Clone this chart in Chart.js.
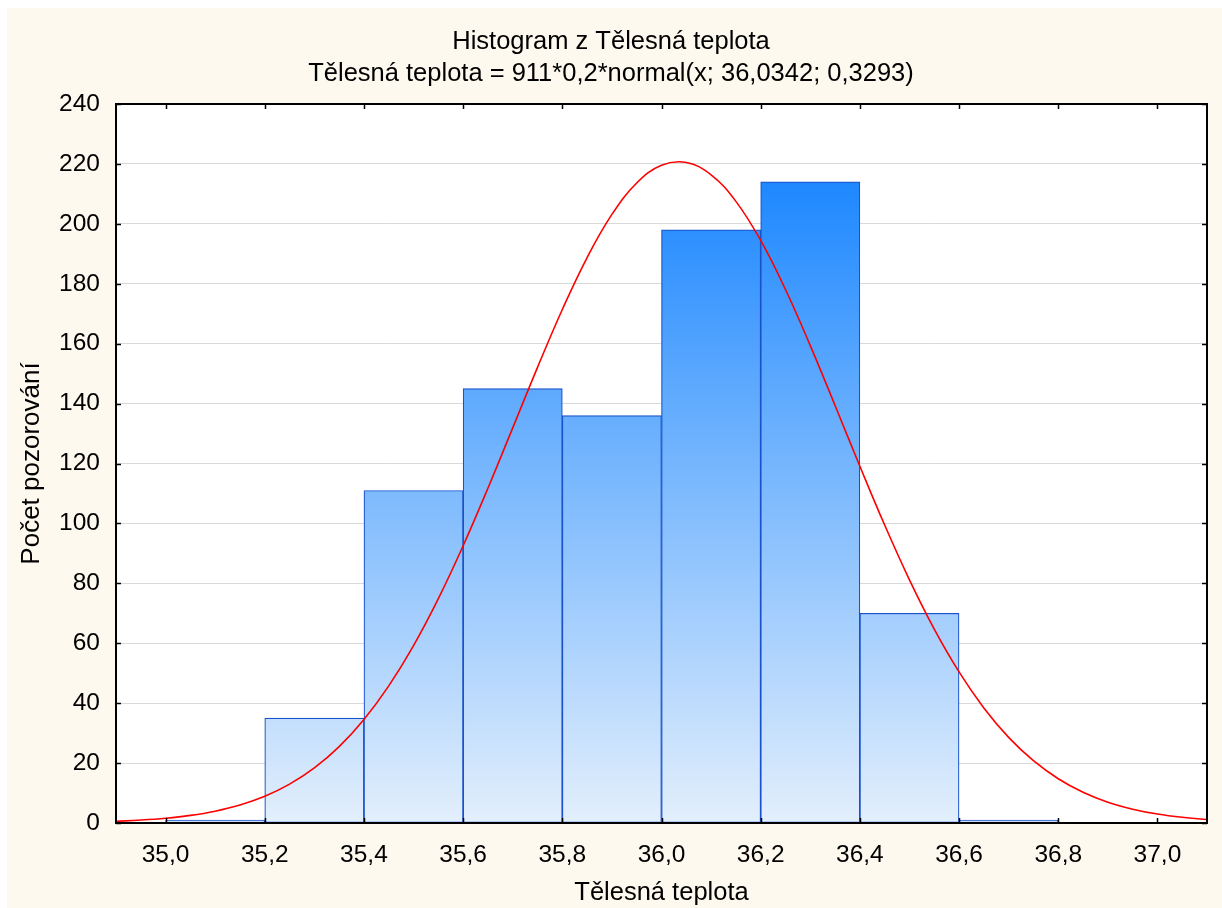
<!DOCTYPE html>
<html>
<head>
<meta charset="utf-8">
<script src="https://cdn.jsdelivr.net/npm/chart.js@4/dist/chart.umd.min.js"></script>
<style>
  html, body { margin: 0; padding: 0; background: #ffffff; }
  #wrap { width: 1222px; height: 908px; position: relative; }
</style>
</head>
<body>
<div id="wrap"><canvas id="c" width="1222" height="908"></canvas></div>
<script>
// ---- Data ----
const titleLines = ['Histogram z Tělesná teplota', 'Tělesná teplota = 911*0,2*normal(x; 36,0342; 0,3293)'];
const xAxisTitle = 'Tělesná teplota';
const yAxisTitle = 'Počet pozorování';

const binCenters = [35.1, 35.3, 35.5, 35.7, 35.9, 36.1, 36.3, 36.5, 36.7];
const counts     = [1, 35, 111, 145, 136, 198, 214, 70, 1];

const curveX = [34.90, 34.95, 35.00, 35.05, 35.10, 35.15, 35.20, 35.25, 35.30, 35.35,
                35.40, 35.45, 35.50, 35.55, 35.60, 35.65, 35.70, 35.75, 35.80, 35.85,
                35.90, 35.95, 36.00, 36.05, 36.10, 36.15, 36.20, 36.25, 36.30, 36.35,
                36.40, 36.45, 36.50, 36.55, 36.60, 36.65, 36.70, 36.75, 36.80, 36.85,
                36.90, 36.95, 37.00, 37.05, 37.10];
const curveY = [0.59, 0.98, 1.59, 2.54, 3.95, 6.00, 8.92, 12.96, 18.38, 25.49,
                34.55, 45.76, 59.21, 74.88, 92.54, 111.76, 131.89, 152.10, 171.41, 188.76,
                203.14, 213.63, 219.54, 220.48, 216.37, 207.50, 194.45, 178.07, 159.36, 139.37,
                119.10, 99.46, 81.17, 64.73, 50.44, 38.41, 28.59, 20.79, 14.77, 10.26,
                6.96, 4.62, 2.99, 1.90, 1.17];

const xTicks = [35.0, 35.2, 35.4, 35.6, 35.8, 36.0, 36.2, 36.4, 36.6, 36.8, 37.0];
const yTicks = [0, 20, 40, 60, 80, 100, 120, 140, 160, 180, 200, 220, 240];
const xMin = 34.9, xMax = 37.1, yMin = 0, yMax = 240;

// ---- Rendering ----
const FONT = "'Liberation Sans', Arial, sans-serif";
const CREAM = '#fdf9ee';

const backgroundPlugin = {
  id: 'bg',
  beforeDraw(chart) {
    const ctx = chart.ctx, a = chart.chartArea;
    ctx.save();
    ctx.fillStyle = '#ffffff';
    ctx.fillRect(0, 0, chart.width, chart.height);
    ctx.fillStyle = CREAM;
    ctx.fillRect(7, 8, chart.width - 7, chart.height - 8);
    ctx.fillStyle = '#ffffff';
    ctx.fillRect(a.left, a.top, a.right - a.left, a.bottom - a.top);
    ctx.restore();
  }
};

const framePlugin = {
  id: 'frame',
  afterDraw(chart) {
    const ctx = chart.ctx, a = chart.chartArea;
    const xs = chart.scales.x, ys = chart.scales.y;
    ctx.save();
    ctx.strokeStyle = '#000000';
    ctx.lineWidth = 1.5;
    ctx.beginPath();
    xTicks.forEach(v => {
      const p = Math.round(xs.getPixelForValue(v)) + 0.5;
      ctx.moveTo(p, a.bottom); ctx.lineTo(p, a.bottom - 5);
      ctx.moveTo(p, a.top); ctx.lineTo(p, a.top + 5);
    });
    yTicks.forEach(v => {
      const p = Math.round(ys.getPixelForValue(v)) + 0.5;
      ctx.moveTo(a.left, p); ctx.lineTo(a.left + 5, p);
      ctx.moveTo(a.right, p); ctx.lineTo(a.right - 5, p);
    });
    ctx.stroke();
    ctx.lineWidth = 2;
    ctx.strokeRect(a.left, a.top, a.right - a.left, a.bottom - a.top);
    ctx.restore();
  }
};

const ctx = document.getElementById('c').getContext('2d');

function barGradient(context) {
  const chart = context.chart;
  const a = chart.chartArea;
  if (!a) return '#80bbfd';
  const ys = chart.scales.y;
  const top = ys.getPixelForValue(Math.max(...counts));
  const g = chart.ctx.createLinearGradient(0, top, 0, a.bottom);
  g.addColorStop(0, '#1e88ff');
  g.addColorStop(1, '#e3effc');
  return g;
}

new Chart(ctx, {
  type: 'bar',
  data: {
    datasets: [
      {
        type: 'line',
        data: curveX.map((x, i) => ({ x: x, y: curveY[i] })),
        borderColor: '#ff0000',
        borderWidth: 1.6,
        pointRadius: 0,
        fill: false,
        tension: 0.4,
        order: 0
      },
      {
        type: 'bar',
        data: binCenters.map((x, i) => ({ x: x, y: counts[i] })),
        backgroundColor: barGradient,
        borderColor: '#1a52cc',
        borderWidth: 1.2,
        borderSkipped: false,
        barPercentage: 1,
        categoryPercentage: 1,
        grouped: false,
        order: 1
      }
    ]
  },
  options: {
    responsive: false,
    animation: false,
    devicePixelRatio: 1,
    layout: { padding: { top: 0, left: 15, right: 15, bottom: 0 } },
    plugins: {
      legend: { display: false },
      tooltip: { enabled: false },
      title: {
        display: true,
        text: titleLines,
        color: '#000000',
        font: { family: FONT, size: 25.5, weight: 'normal', lineHeight: 32 / 25.5 },
        padding: { top: 26, bottom: 14 }
      }
    },
    scales: {
      x: {
        type: 'linear',
        min: xMin, max: xMax,
        offset: false,
        afterBuildTicks(scale) { scale.ticks = xTicks.map(v => ({ value: v })); },
        afterFit(scale) { scale.height = 85; },
        grid: { display: false, drawTicks: false },
        border: { display: false },
        ticks: {
          color: '#000000',
          padding: 18,
          maxRotation: 0,
          autoSkip: false,
          font: { family: FONT, size: 24.5 },
          callback: v => Number(v).toFixed(1).replace('.', ',')
        },
        title: {
          display: true,
          text: xAxisTitle,
          color: '#000000',
          font: { family: FONT, size: 25.5 },
          padding: { top: 0, bottom: 0 }
        }
      },
      y: {
        type: 'linear',
        min: yMin, max: yMax,
        afterBuildTicks(scale) { scale.ticks = yTicks.map(v => ({ value: v })); },
        afterFit(scale) { scale.width = 101; },
        grid: { color: '#d9d9d9', lineWidth: 1, drawTicks: false },
        border: { display: false },
        ticks: {
          color: '#000000',
          padding: 16,
          autoSkip: false,
          font: { family: FONT, size: 24.5 },
          callback: v => String(v)
        },
        title: {
          display: true,
          text: yAxisTitle,
          color: '#000000',
          font: { family: FONT, size: 26 },
          padding: { top: 1.5, bottom: 0 }
        }
      }
    }
  },
  plugins: [backgroundPlugin, framePlugin]
});
</script>
</body>
</html>
